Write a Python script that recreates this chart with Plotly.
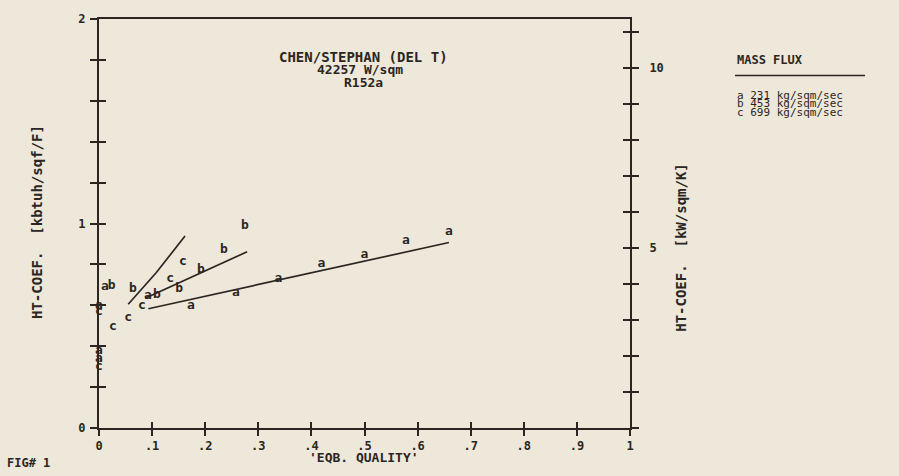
import plotly.graph_objects as go

# ---------------- data ----------------
# series a : 231 kg/sqm/sec
a_x = [0.0, 0.0, 0.0, 0.011, 0.092, 0.173, 0.258, 0.338, 0.419, 0.500, 0.578, 0.659]
a_y = [0.60, 0.38, 0.34, 0.692, 0.649, 0.596, 0.659, 0.728, 0.802, 0.846, 0.914, 0.962]
# series b : 453 kg/sqm/sec
b_x = [0.024, 0.064, 0.109, 0.151, 0.192, 0.235, 0.275]
b_y = [0.697, 0.683, 0.654, 0.683, 0.775, 0.872, 0.988]
# series c : 699 kg/sqm/sec
c_x = [0.0, 0.0, 0.026, 0.055, 0.081, 0.134, 0.158]
c_y = [0.57, 0.30, 0.494, 0.537, 0.596, 0.731, 0.814]

# correlation curves (Chen/Stephan)
a_line_x = [0.093, 0.659]
a_line_y = [0.583, 0.907]
b_line_x = [0.087, 0.279]
b_line_y = [0.634, 0.862]
c_line_x = [0.055, 0.108, 0.162]
c_line_y = [0.605, 0.760, 0.939]

series_letters = ["a", "b", "c"]
legend_lines = ["a 231 kg/sqm/sec", "b 453 kg/sqm/sec", "c 699 kg/sqm/sec"]

x_ticks = [0.0, 0.1, 0.2, 0.3, 0.4, 0.5, 0.6, 0.7, 0.8, 0.9, 1.0]
x_tick_labels = ["0", ".1", ".2", ".3", ".4", ".5", ".6", ".7", ".8", ".9", "1"]
y_ticks = [0.0, 0.2, 0.4, 0.6, 0.8, 1.0, 1.2, 1.4, 1.6, 1.8, 2.0]
y_tick_labels = ["0", "", "", "", "", "1", "", "", "", "", "2"]
y2_ticks = [0, 1, 2, 3, 4, 5, 6, 7, 8, 9, 10, 11]
y2_tick_labels = ["", "", "", "", "", "5", "", "", "", "", "10", ""]
KW_PER_KBTU = 5.678263  # kBtu/h/ft2/F -> kW/m2/K

# ---------------- style ----------------
INK = "#2b2622"
BG = "#ede8da"
FONT = "DejaVu Sans Mono"

W, H = 899, 476
L, R, T, B = 99, 269, 15, 48
PW = W - L - R
PH = H - T - B


def pxx(x):
    return (x - L) / PW


def pxy(y):
    return (H - B - y) / PH


fig = go.Figure()

for xs, ys in [(a_line_x, a_line_y), (b_line_x, b_line_y), (c_line_x, c_line_y)]:
    fig.add_trace(go.Scatter(x=xs, y=ys, mode="lines",
                             line=dict(color=INK, width=1.7),
                             showlegend=False, hoverinfo="skip"))

for letter, xs, ys in zip(series_letters, [a_x, b_x, c_x], [a_y, b_y, c_y]):
    fig.add_trace(go.Scatter(x=xs, y=ys, mode="text", text=[letter] * len(xs),
                             textposition="middle center",
                             textfont=dict(family=FONT, size=13, color=INK, weight="bold"),
                             showlegend=False, hoverinfo="skip", cliponaxis=False))

# dummy traces so the overlay axes are drawn
fig.add_trace(go.Scatter(x=[None], y=[None], xaxis="x", yaxis="y2", showlegend=False))
fig.add_trace(go.Scatter(x=[None], y=[None], xaxis="x2", yaxis="y3", showlegend=False))
fig.add_trace(go.Scatter(x=[None], y=[None], xaxis="x", yaxis="y4", showlegend=False))

tickfont = dict(family=FONT, size=12, color=INK, weight="bold")
common = dict(showgrid=False, zeroline=False, tickcolor=INK, tickwidth=1.6, fixedrange=True)

fig.update_layout(
    width=W, height=H,
    margin=dict(l=L, r=R, t=T, b=B),
    paper_bgcolor=BG, plot_bgcolor=BG,
    showlegend=False,
    xaxis=dict(range=[0, 1], tickvals=x_ticks, ticktext=x_tick_labels,
               ticks="outside", ticklen=6, showline=True, linecolor=INK,
               linewidth=2, mirror=True, tickfont=tickfont, **common),
    xaxis2=dict(range=[0, 1], overlaying="x", anchor="y", side="bottom",
                tickvals=x_ticks, ticks="inside", ticklen=6,
                showticklabels=False, showline=False, **common),
    yaxis=dict(range=[0, 2], tickvals=y_ticks, ticktext=y_tick_labels,
               ticks="outside", ticklen=7, showline=True, linecolor=INK,
               linewidth=2, tickfont=tickfont, ticklabelstandoff=2, **common),
    yaxis3=dict(range=[0, 2], overlaying="y", anchor="x", side="left",
                tickvals=y_ticks, ticks="inside", ticklen=7,
                showticklabels=False, showline=False, **common),
    yaxis2=dict(range=[0, 2 * KW_PER_KBTU], overlaying="y", anchor="x", side="right",
                tickvals=y2_ticks, ticktext=y2_tick_labels,
                ticks="outside", ticklen=7, showline=True, linecolor=INK,
                linewidth=2, tickfont=tickfont, ticklabelstandoff=8, **common),
    yaxis4=dict(range=[0, 2 * KW_PER_KBTU], overlaying="y", anchor="x", side="right",
                tickvals=y2_ticks, ticks="inside", ticklen=7,
                showticklabels=False, showline=False, **common),
)

txt = dict(family=FONT, size=12, color=INK, weight="bold")
small = dict(family=FONT, size=11, color=INK)

annotations = [
    dict(text="CHEN/STEPHAN (DEL T)", x=pxx(363), y=pxy(53), font=dict(txt, size=14)),
    dict(text="42257 W/sqm", x=pxx(360), y=pxy(66), font=dict(txt, size=13)),
    dict(text="R152a", x=pxx(363), y=pxy(79), font=dict(txt, size=13)),
    dict(text="'EQB. QUALITY'", x=pxx(364), y=pxy(458), font=dict(txt, size=13)),
    dict(text="HT-COEF.  [kbtuh/sqf/F]", x=pxx(37), y=pxy(220), textangle=-90,
         font=dict(txt, size=14)),
    dict(text="HT-COEF.  [kW/sqm/K]", x=pxx(681), y=pxy(245), textangle=-90,
         font=dict(txt, size=14)),
    dict(text="FIG# 1", x=pxx(5), y=pxy(463), xanchor="left", font=txt),
    dict(text="MASS FLUX", x=pxx(735), y=pxy(56), xanchor="left", font=dict(txt, size=12)),
]
for i, line in enumerate(legend_lines):
    annotations.append(dict(text=line, x=pxx(735), y=pxy(92 + 8.6 * i), xanchor="left",
                            font=small))

for a in annotations:
    a.setdefault("xanchor", "center")
    a.update(xref="paper", yref="paper", yanchor="middle", showarrow=False)
fig.update_layout(annotations=annotations)

fig.add_shape(type="line", xref="paper", yref="paper",
              x0=pxx(735), x1=pxx(865), y0=pxy(72), y1=pxy(72),
              line=dict(color=INK, width=1.5))

page_js = ("document.body.style.margin='0';"
           "document.body.style.padding='0';"
           "document.body.style.background='" + BG + "';"
           "document.documentElement.style.background='" + BG + "';")
fig.write_html("out.html", post_script=page_js, config={"displayModeBar": False})
